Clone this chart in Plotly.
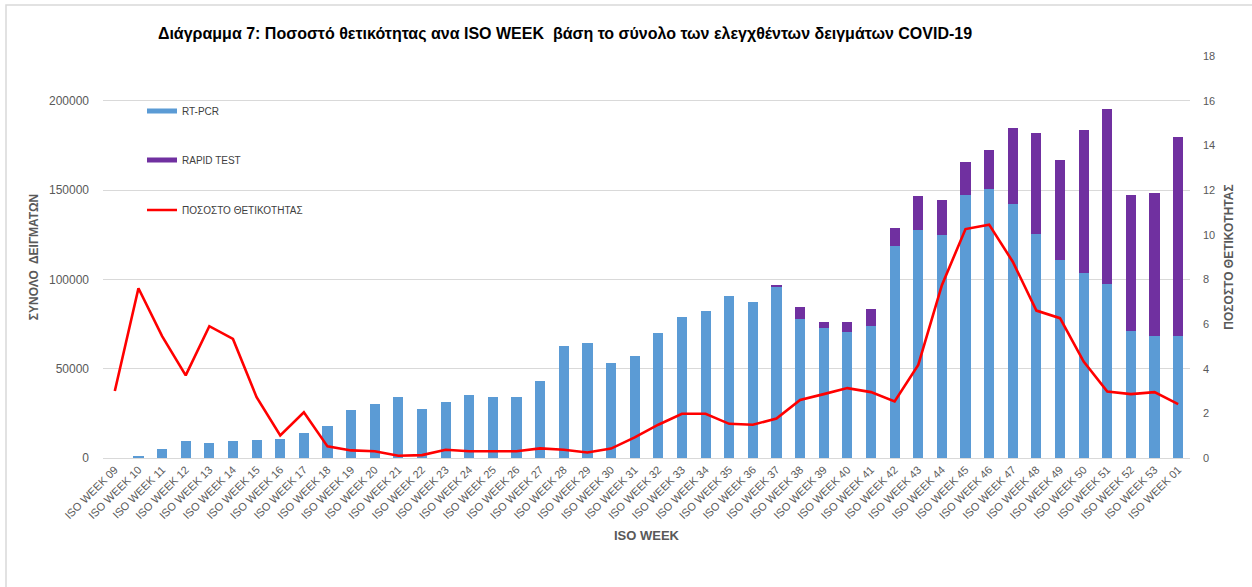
import plotly.graph_objects as go

weeks = ["ISO WEEK %02d" % w for w in range(9, 54)] + ["ISO WEEK 01"]

rt_pcr = [0, 800, 5000, 9500, 8600, 9500, 10100, 10600, 14000, 17900,
          26600, 30000, 33900, 27200, 31100, 35000, 34400, 34400, 43200, 62600,
          64200, 53100, 57000, 69800, 79100, 82000, 90900, 87500, 95900, 78000,
          73000, 70400, 74100, 118900, 127600, 124800, 147400, 150700, 141900, 125400,
          111100, 103500, 97600, 70900, 68200, 68200]

total = [0, 800, 5000, 9500, 8600, 9500, 10100, 10600, 14000, 17900,
         26600, 30000, 33900, 27200, 31100, 35000, 34400, 34400, 43200, 62600,
         64200, 53100, 57000, 69800, 79100, 82000, 90900, 87500, 96500, 84700,
         76400, 76400, 83600, 128700, 146900, 144600, 165600, 172200, 184800, 182000,
         166700, 183700, 195400, 147400, 148200, 179500]

rapid_test = [t - r for t, r in zip(total, rt_pcr)]

positivity = [3.0, 7.6, 5.46, 3.7, 5.9, 5.33, 2.72, 1.01, 2.05, 0.52,
              0.34, 0.3, 0.1, 0.13, 0.37, 0.3, 0.3, 0.3, 0.43, 0.37,
              0.25, 0.42, 0.92, 1.49, 1.98, 1.98, 1.53, 1.49, 1.77, 2.6,
              2.86, 3.13, 2.95, 2.53, 4.17, 7.74, 10.25, 10.45, 8.79, 6.6,
              6.26, 4.32, 2.98, 2.86, 2.95, 2.41]

FONT = "Liberation Sans"
GREY = "#595959"
BLUE = "#5B9BD5"
PURPLE = "#7030A0"

fig = go.Figure()
fig.add_trace(go.Bar(x=weeks, y=rt_pcr, name="RT-PCR", marker_color=BLUE,
                     marker_line_width=0, legendgroup="rt", showlegend=False))
fig.add_trace(go.Bar(x=weeks, y=rapid_test, name="RAPID TEST", marker_color=PURPLE,
                     marker_line_width=0, legendgroup="rapid", showlegend=False))
# legend entries styled like the original's wide bar swatches
fig.add_trace(go.Scatter(x=[None], y=[None], name="RT-PCR", mode="lines",
                         line=dict(color=BLUE, width=5), legendgroup="rt", legend="legend"))
fig.add_trace(go.Scatter(x=[None], y=[None], name="RAPID TEST", mode="lines",
                         line=dict(color=PURPLE, width=5), legendgroup="rapid", legend="legend2"))
fig.add_trace(go.Scatter(x=weeks, y=positivity, name="ΠΟΣΟΣΤΟ ΘΕΤΙΚΟΤΗΤΑΣ", mode="lines",
                         line=dict(color="#FF0000", width=2.6), yaxis="y2", legend="legend3"))

L, R, T, B = 103, 62, 56, 129
H = 587 - T - B


def py(p):
    return (587 - B - p) / H


def px(p):
    return (p - L) / (1252 - L - R)


leg_common = dict(xanchor="left", yanchor="middle", bgcolor="rgba(0,0,0,0)",
                  font=dict(family=FONT, size=10, color="#404040"), itemwidth=30, visible=True)

fig.update_layout(
    width=1252, height=587,
    showlegend=True,
    margin=dict(l=L, r=R, t=T, b=B),
    paper_bgcolor="white", plot_bgcolor="white",
    barmode="stack", bargap=0.57,
    title=dict(text="<b>Διάγραμμα 7: Ποσοστό θετικότητας ανα ISO WEEK  βάση το σύνολο των ελεγχθέντων δειγμάτων COVID-19</b>",
               x=(152 + 978) / 2 / 1252, xanchor="center", y=1 - 33 / 587, yanchor="middle",
               font=dict(family=FONT, size=16, color="black")),
    legend=dict(x=px(142), y=py(111), **leg_common),
    legend2=dict(x=px(142), y=py(160), **leg_common),
    legend3=dict(x=px(142), y=py(210), **leg_common),
    xaxis=dict(type="category", range=[-0.5, len(weeks) - 0.5], tickangle=-45,
               tickfont=dict(family=FONT, size=11, color=GREY),
               showline=True, linecolor="#D9D9D9", linewidth=1, ticks="",
               title=dict(text="<b>ISO WEEK</b>", font=dict(family=FONT, size=13, color=GREY), standoff=10)),
    yaxis=dict(range=[0, 225000], dtick=50000, tickformat="d",
               tickfont=dict(family=FONT, size=12, color=GREY),
               showgrid=True, gridcolor="#D9D9D9", gridwidth=1, zeroline=False,
               ticks="", ticklabelstandoff=13,
               title=dict(text="<b>ΣΥΝΟΛΟ  ΔΕΙΓΜΑΤΩΝ</b>", font=dict(family=FONT, size=12, color=GREY), standoff=7)),
    yaxis2=dict(range=[0, 18], dtick=2, overlaying="y", side="right",
                tickfont=dict(family=FONT, size=11, color=GREY),
                showgrid=False, zeroline=False, ticks="", ticklabelstandoff=12,
                title=dict(text="<b>ΠΟΣΟΣΤΟ ΘΕΤΙΚΟΤΗΤΑΣ</b>", font=dict(family=FONT, size=12, color=GREY), standoff=10)),
    shapes=[dict(type="rect", xref="paper", yref="paper",
                 x0=px(6), x1=px(1300), y0=py(640), y1=py(5),
                 line=dict(color="#D9D9D9", width=1.5), fillcolor="rgba(0,0,0,0)", layer="below")],
)

fig.write_html("out.html", config={"displayModeBar": False},
               post_script="document.body.style.margin='0';document.body.style.overflow='hidden';")
